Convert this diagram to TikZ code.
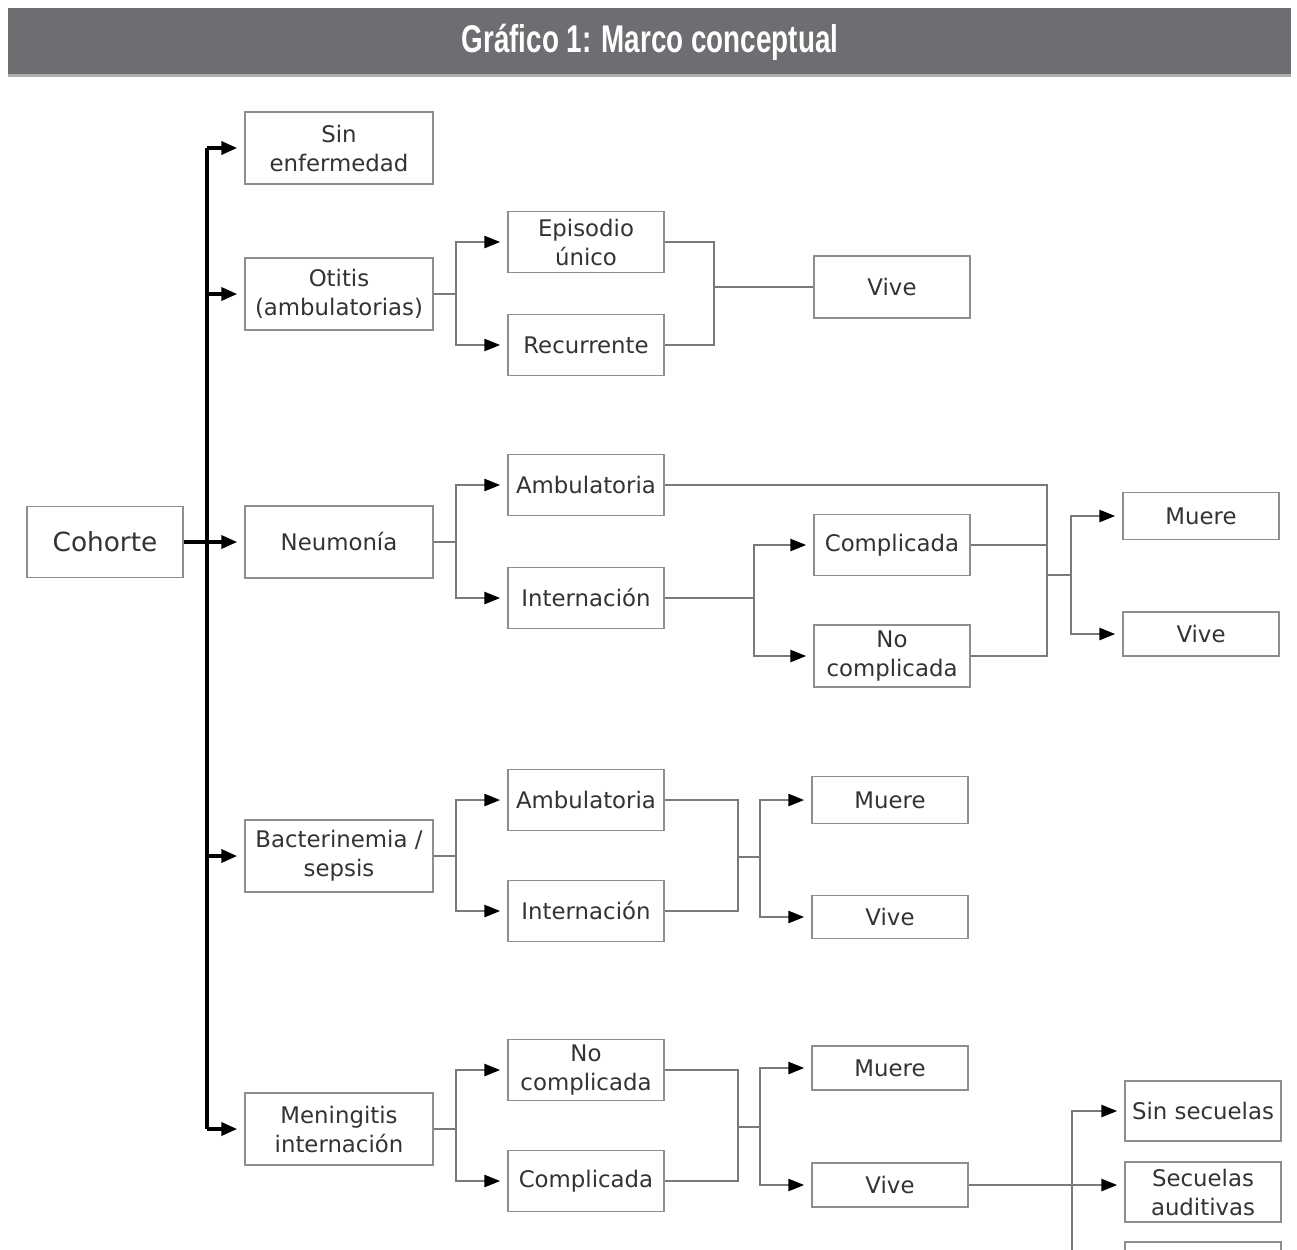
\documentclass[tikz,border=0pt]{standalone}
\usepackage{graphicx}
\usepackage{fontspec}
\setmainfont{DejaVu Sans}
\newfontfamily\titlefont{Liberation Sans}
\usetikzlibrary{arrows.meta}
\definecolor{bar}{HTML}{6D6E71}
\definecolor{boxc}{HTML}{8E8E8E}
\definecolor{lnc}{HTML}{7A7A7A}
\definecolor{txt}{HTML}{333333}
\begin{document}
\begin{tikzpicture}[x=0.02cm,y=-0.02cm,
  box/.style={draw=boxc, line width=1pt, inner sep=0pt, align=center, text=txt,
    font=\fontsize{13}{16.5}\selectfont},
  cA/.style={box, minimum width=3.76cm, minimum height=1.44cm},
  cB/.style={box, minimum width=3.12cm, minimum height=1.22cm},
  cC/.style={box, minimum width=3.12cm},
  ln/.style={draw=lnc, line width=1pt},
  arr/.style={ln, -{Triangle[length=9pt,width=7pt,color=black]}, shorten >=4pt},
  trunk/.style={draw=black, line width=1.8pt},
  tarr/.style={trunk, -{Triangle[length=9pt,width=7.5pt]}, shorten >=4pt}
]
\clip (0,0) rectangle (1297,1249);
\fill[white] (0,0) rectangle (1297,1249);
% title bar
\fill[bar] (8,8) rectangle (1291,74);
\fill[bar!55] (8,74) rectangle (1291,77);
\node[text=white, font=\titlefont\bfseries\fontsize{22}{26}\selectfont] (title) at (650,42)
  {\scalebox{0.72}[1]{Gráfico 1: Marco conceptual}};

% root
\node[box, minimum width=3.12cm, minimum height=1.42cm, font=\fontsize{15}{18}\selectfont] (coh) at (105,542) {Cohorte};

% column A
\node[cA] (sinenf) at (339,148) {Sin\\enfermedad};
\node[cA] (otitis) at (339,294) {Otitis\\(ambulatorias)};
\node[cA] (neu) at (339,542) {Neumonía};
\node[cA] (bact) at (339,856) {Bacterinemia /\\sepsis};
\node[cA] (men) at (339,1129) {Meningitis\\internación};

% column B
\node[cB] (epi) at (586,242) {Episodio\\único};
\node[cB] (rec) at (586,345) {Recurrente};
\node[cB] (namb) at (586,485) {Ambulatoria};
\node[cB] (nint) at (586,598) {Internación};
\node[cB] (bamb) at (586,800) {Ambulatoria};
\node[cB] (bint) at (586,911) {Internación};
\node[cB] (mnc) at (586,1070) {No\\complicada};
\node[cB] (mcomp) at (586,1181) {Complicada};

% column C
\node[cC, minimum height=1.24cm] (ovive) at (892,287) {Vive};
\node[cC, minimum height=1.22cm] (ncomp) at (892,545) {Complicada};
\node[cC, minimum height=1.24cm] (nnc) at (892,656) {No\\complicada};
\node[cC, minimum height=0.94cm] (bmuere) at (890,800) {Muere};
\node[cC, minimum height=0.86cm] (bvive) at (890,917) {Vive};
\node[cC, minimum height=0.88cm] (mmuere) at (890,1068) {Muere};
\node[cC, minimum height=0.88cm] (mvive) at (890,1185) {Vive};

% column D
\node[cC, minimum height=0.94cm] (nmuere) at (1201,516) {Muere};
\node[cC, minimum height=0.88cm] (nvive) at (1201,634) {Vive};
\node[cC, minimum height=1.2cm] (sinsec) at (1203,1111) {Sin secuelas};
\node[cC, minimum height=1.2cm] (secaud) at (1203,1192) {Secuelas\\auditivas};
\node[cC, minimum height=1.2cm] (sec3) at (1203,1272) {};

% trunk
\coordinate (T) at (207,0);
\draw[trunk] (T|-sinenf.west) -- (T|-men.west);
\draw[trunk] (coh.east) -- (T|-coh.east);
\foreach \n in {sinenf,otitis,neu,bact,men} \draw[tarr] (T|-\n.west) -- (\n.west);

% split from column A
\coordinate (A1) at (456,0);
\foreach \s/\a/\b in {otitis/epi/rec, neu/namb/nint, bact/bamb/bint, men/mnc/mcomp} {
  \draw[arr] (\s.east) -- (A1|-\s.east) |- (\a.west);
  \draw[arr] (\s.east) -- (A1|-\s.east) |- (\b.west);
}

% otitis merge
\coordinate (B1) at (714,0);
\draw[ln] (epi.east) -| (B1|-rec.east) -- (rec.east);
\draw[ln] (B1|-ovive.west) -- (ovive.west);

% neumonia
\coordinate (B2) at (754,0);
\draw[arr] (nint.east) -- (B2|-nint.east) |- (ncomp.west);
\draw[arr] (nint.east) -- (B2|-nint.east) |- (nnc.west);
\coordinate (C2) at (1047,0);
\draw[ln] (namb.east) -| (C2|-nnc.east) -- (nnc.east);
\draw[ln] (ncomp.east) -- (C2|-ncomp.east);
\coordinate (D2) at (1071,575);
\draw[ln] (C2|-D2) -- (D2);
\draw[arr] (D2) |- (nmuere.west);
\draw[arr] (D2) |- (nvive.west);

% bacterinemia
\coordinate (B3) at (738,0);
\draw[ln] (bamb.east) -| (B3|-bint.east) -- (bint.east);
\coordinate (D3) at (760,857);
\draw[ln] (B3|-D3) -- (D3);
\draw[arr] (D3) |- (bmuere.west);
\draw[arr] (D3) |- (bvive.west);

% meningitis
\draw[ln] (mnc.east) -| (B3|-mcomp.east) -- (mcomp.east);
\coordinate (D4) at (760,1127);
\draw[ln] (B3|-D4) -- (D4);
\draw[arr] (D4) |- (mmuere.west);
\draw[arr] (D4) |- (mvive.west);
\draw[arr] (mvive.east) -- (mvive.east -| secaud.west);
\coordinate (E4) at (1072,0);
\draw[arr] (E4|-sec3.west) |- (sinsec.west);
\draw[arr] (E4|-sec3.west) -- (sec3.west);
\end{tikzpicture}
\end{document}
